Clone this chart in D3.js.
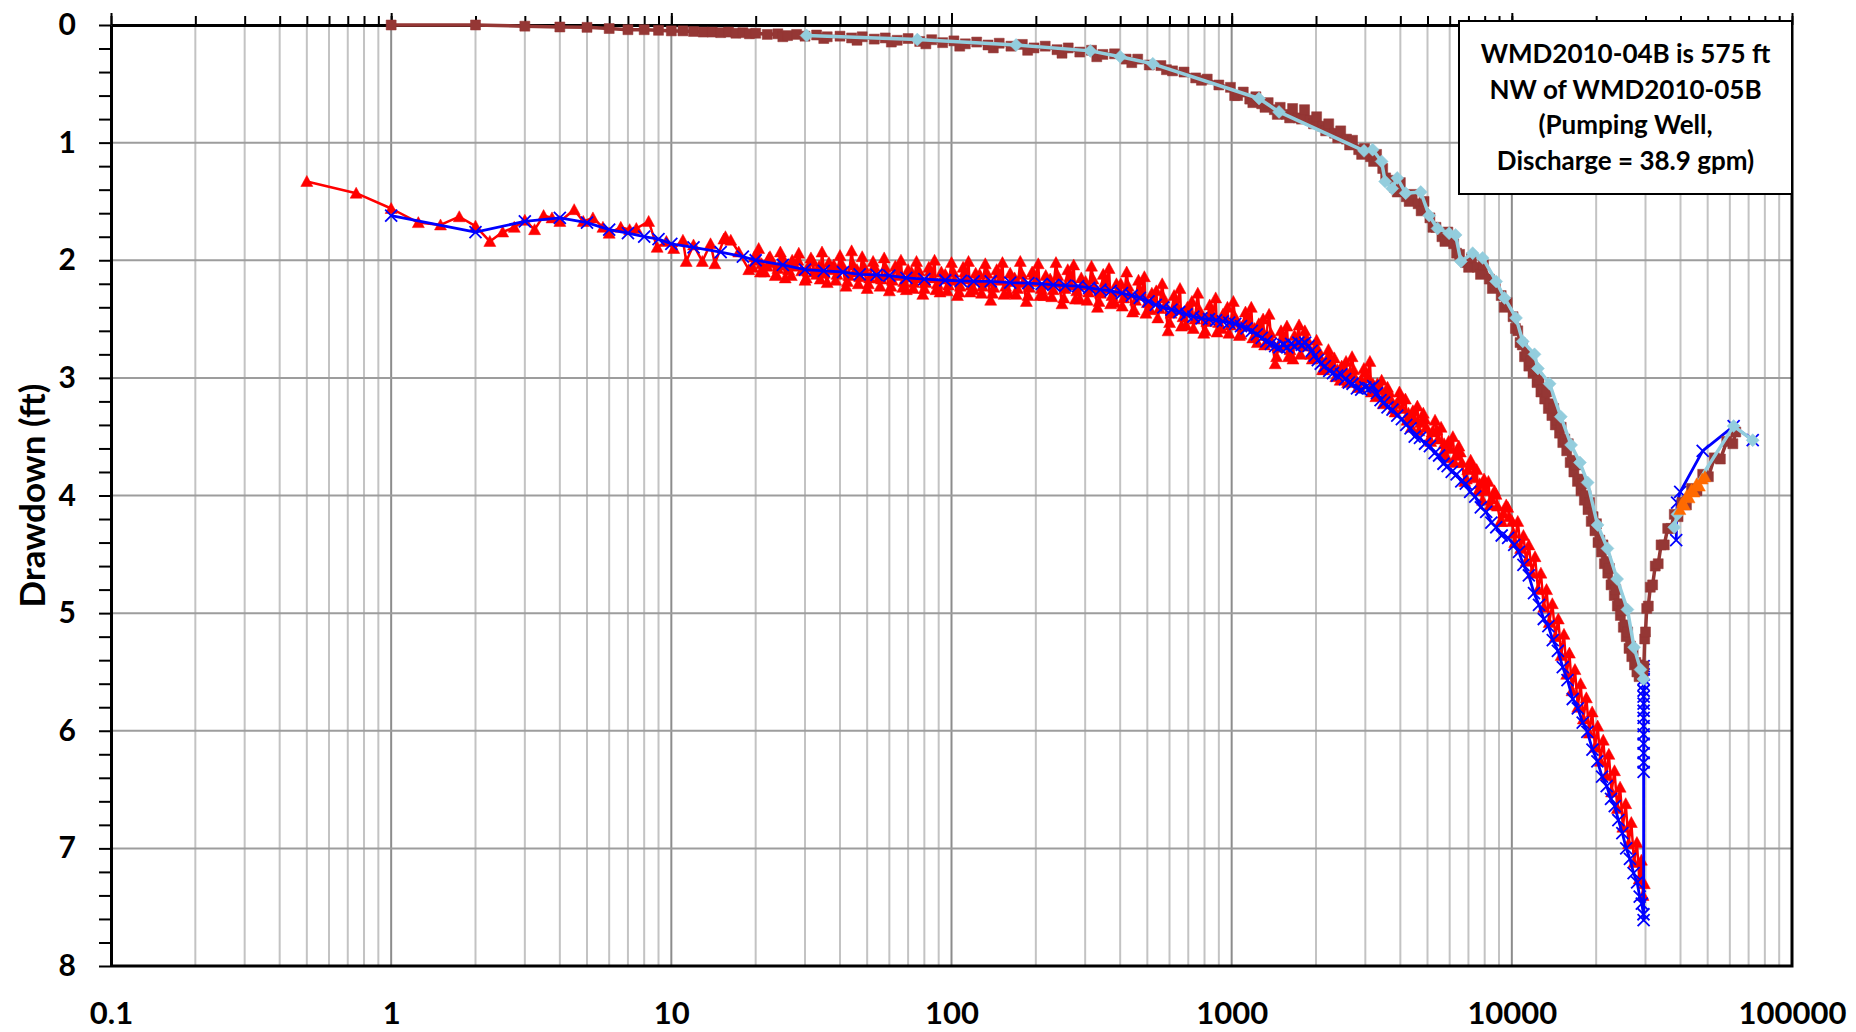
<!DOCTYPE html>
<html>
<head>
<meta charset="utf-8">
<script src="https://d3js.org/d3.v7.min.js"></script>
<style>
  body { margin: 0; background: #ffffff; }
  svg { display: block; }
</style>
</head>
<body onload="onbodyload()">
<svg width="1856" height="1032"></svg>
<script>
// elapsed time (x, log) and drawdown in ft (y)
const redSeries = [
  [0.5,1.33],[0.75,1.43],[1,1.56],[1.25,1.68],[1.5,1.70],[1.75,1.63],[2,1.71],[2.25,1.84],[2.5,1.76],[2.75,1.72],
  [3,1.66],[3.25,1.74],[3.5,1.62],[3.75,1.64],[4,1.67],[4.5,1.57],[4.85,1.67],[5.25,1.64],[5.7,1.72],[6,1.77],
  [6.6,1.72],[7.1,1.74],[7.5,1.73],[8.3,1.67],[8.9,1.89],[9.6,1.84],[10.2,1.90],[11,1.83],[11.3,2.01],[12,1.87],
  [12.9,2.01],[13.8,1.86],[14.3,2.03],[15.4,1.82],[15.6,1.80],[16.3,1.83],[17.4,1.93],[18.9,2.08],
  [19.5,2.06],[20.5,1.90],[21.5,2.10],[22.5,1.97],[23.5,2.13],[24.5,1.93],[25.5,2.15],[27,2.00],[28.5,1.94],[30,2.17],
  [31.5,1.98],[33,2.12],[34.5,1.93],[36,2.19],[38,2.04],[40,1.96],[42,2.22],[44,1.92],[46,2.08],[48,1.97],
  [50,2.24],[52.5,2.01],[55,2.15],[57.5,1.98],[60,2.26],[63,2.05],[66,2.00],[69,2.25],[72,2.10],[75,2.01],
  [79,2.29],[83,2.06],[87,2.00],[91,2.27],[95,2.12],[100,2.02],
  [105,2.30],[110,2.06],[115,2.01],[120,2.25],[126,2.12],[132,2.03],[138,2.34],[145,2.08],[152,2.02],[160,2.28],
  [168,2.15],[176,2.01],[185,2.35],[194,2.10],[204,2.03],[214,2.30],[225,2.16],[236,2.02],[248,2.37],[260,2.08],
  [273,2.04],[287,2.33],[301,2.18],[316,2.05],[332,2.40],[348,2.12],[365,2.07],[383,2.36],[402,2.20],[422,2.10],
  [443,2.44],[465,2.17],[488,2.14],[512,2.42],[538,2.26],[565,2.20],[593,2.60],[623,2.30],[654,2.24],[687,2.55],
  [721,2.35],[757,2.28],[795,2.62],[835,2.38],[877,2.32],[920,2.58],[966,2.40],[1014,2.35],
  [1065,2.64],[1120,2.44],[1175,2.40],[1235,2.70],[1295,2.50],[1360,2.46],[1430,2.88],[1500,2.60],[1575,2.56],[1655,2.84],
  [1740,2.55],[1825,2.60],[1915,2.80],[2010,2.68],[2110,2.93],[2215,2.76],[2325,2.83],[2440,3.02],[2560,2.86],[2690,2.82],
  [2825,3.08],[2965,2.92],[3115,2.86],[3270,3.16],[3430,3.02],[3600,3.08],[3780,3.26],[3970,3.12],[4170,3.18],[4380,3.42],
  [4600,3.24],[4830,3.30],[5070,3.52],[5320,3.36],[5590,3.42],[5870,3.68],[6160,3.50],[6470,3.58],[6790,3.88],[7130,3.70],
  [7490,3.78],[7860,4.04],[8250,3.88],[8670,3.96],[9100,4.22],[9550,4.08],[10030,4.22],
  [10250,4.40],[10500,4.22],[10750,4.45],[11000,4.34],[11250,4.56],[11500,4.42],[11800,4.66],[12100,4.52],[12400,4.80],[12700,4.66],
  [13000,4.95],[13300,4.80],[13600,5.08],[13950,4.92],[14300,5.20],[14650,5.05],[15000,5.36],[15350,5.18],[15700,5.52],[16050,5.34],
  [16400,5.66],[16800,5.48],[17200,5.80],[17600,5.60],[18000,5.90],[18450,5.72],[18900,6.02],[19350,5.84],[19800,6.14],[20250,5.96],
  [20700,6.26],[21200,6.08],[21700,6.38],[22200,6.20],[22700,6.52],[23250,6.34],[23800,6.66],[24350,6.48],[24900,6.82],[25500,6.62],
  [26100,6.96],[26700,6.78],[27300,7.12],[27950,6.95],[28500,7.26],[29000,7.10],[29400,7.40],[29700,7.30]
];
// readings from the middle of the solid red band
const redInfill = [
  [20,2.00],[21,2.03],[22,2.05],[23,2.02],[24,2.07],[25,2.04],[26.2,2.08],[27.7,2.05],[29.2,2.09],[30.7,2.06],
  [32.2,2.10],[33.7,2.05],[35.2,2.11],[37,2.08],[39,2.12],[41,2.07],[43,2.13],[45,2.10],[47,2.14],[49,2.09],
  [51,2.15],[53.7,2.11],[56.2,2.16],[58.7,2.12],[61.5,2.17],[64.5,2.13],[67.5,2.18],[70.5,2.14],[73.5,2.19],[77,2.15],
  [81,2.19],[85,2.15],[89,2.20],[93,2.16],[97.5,2.21],[102.5,2.17],[107.5,2.22],[112.5,2.16],[117.5,2.21],[123,2.17],
  [129,2.22],[135,2.18],[141.5,2.23],[148.5,2.17],[156,2.22],[164,2.18],[172,2.24],[180.5,2.19],[189.5,2.23],[199,2.18],
  [209,2.24],[219.5,2.20],[230.5,2.25],[242,2.19],[254,2.24],[266.5,2.21],[280,2.26],[294,2.21],[308.5,2.27],[324,2.23],
  [340,2.28],[356.5,2.24],[374,2.30],[392.5,2.26],[412,2.32],[432.5,2.28],[454,2.34],[476.5,2.30],[500,2.36],[525,2.34],
  [551.5,2.41],[579,2.38],[608,2.45],[638.5,2.42],[670.5,2.48],[704,2.44],[739,2.50],[776,2.46],[815,2.52],[856,2.48],
  [898.5,2.53],[943,2.49],[990,2.55],[1040,2.52],[1092,2.56],[1147,2.55],[1205,2.58],[1265,2.60],[1327,2.64],[1395,2.70],
  [1465,2.74],[1537,2.72],[1615,2.76],[1697,2.70],[1782,2.72],[1870,2.73],[1962,2.77],[2060,2.82],[2162,2.86],[2270,2.90],
  [2382,2.93],[2500,2.95],[2625,2.97],[2757,3.00],[2895,3.02],[3040,3.00],[3192,3.05],[3350,3.10],[3515,3.15],[3690,3.18],
  [3875,3.22],[4070,3.26],[4275,3.30],[4490,3.35],[4715,3.38],[4950,3.42],[5195,3.46],[5455,3.52],[5730,3.56],[6015,3.60],
  [6315,3.66],[6630,3.72],[6960,3.78],[7310,3.85],[7675,3.90],[8055,3.96],[8460,4.03],[8885,4.09],[9325,4.15],[9790,4.18]
];
// upper and lower quarter of the red band
const redInfillEdges = [
  [19.8,1.97],[20.8,2.10],[22.3,1.98],[23.7,2.12],[25.1,1.99],[26.8,2.13],[28.3,2.00],[30.3,2.15],[32,2.01],[34,2.16],
  [36.5,2.02],[38.6,2.17],[40.5,2.03],[42.5,2.18],[44.6,2.04],[46.5,2.20],[48.6,2.05],[50.5,2.20],[53,2.05],[55.6,2.22],
  [58,2.06],[60.8,2.22],[64,2.07],[67,2.23],[70,2.08],[73,2.24],[76.5,2.09],[80,2.24],[84,2.09],[88,2.25],
  [92,2.10],[96.5,2.26],[101.5,2.10],[106.5,2.27],[111.5,2.10],[116.5,2.27],[122,2.11],[128,2.28],[134,2.11],[140,2.28],
  [147,2.11],[154,2.29],[162,2.11],[170,2.29],[178.5,2.12],[187.5,2.30],[197,2.12],[207,2.30],[217,2.13],[228,2.31],
  [239.5,2.13],[251.5,2.32],[264,2.14],[277,2.33],[290.5,2.15],[305,2.34],[320,2.16],[336,2.35],[352.5,2.18],[370,2.37],
  [388,2.20],[407,2.39],[427.5,2.22],[448.5,2.42],[471,2.25],[494,2.45],[519,2.28],[545,2.49],[572,2.32],[600.5,2.53],
  [631,2.37],[662,2.56],[695,2.40],[730,2.58],[766,2.42],[805,2.60],[845,2.44],[887,2.61],[931,2.46],[978,2.62],
  [1027,2.48],[1078,2.63],[1133,2.50],[1190,2.66],[1250,2.54],[1311,2.72],[1378,2.62],[1447,2.82],[1520,2.66],[1596,2.82],
  [1676,2.64],[1761,2.80],[1848,2.66],[1940,2.84],[2035,2.76],[2136,2.93],[2243,2.82],[2354,2.99],[2470,2.90],[2594,3.04],
  [2724,2.93],[2860,3.08],[3000,2.95],[3150,3.12],[3310,3.05],[3475,3.22],[3650,3.12],[3830,3.29],[4020,3.18],[4225,3.36],
  [4435,3.28],[4655,3.45],[4890,3.35],[5135,3.54],[5390,3.44],[5660,3.64],[5945,3.54],[6240,3.72],[6550,3.63],[6880,3.86],
  [7220,3.74],[7580,3.96],[7960,3.86],[8360,4.08],[8780,3.99],[9210,4.22],[9670,4.10],[10130,4.32]
];

const blueSeries = [
  [1,1.62],[2,1.76],[3,1.67],[4,1.64],[5,1.68],[6,1.74],[7,1.77],[8,1.80],[9,1.82],[10,1.86],
  [12,1.89],[15,1.93],[18,1.97],[20,2.00],[25,2.04],[30,2.08],[35,2.09],[41,2.10],[47,2.12],[54,2.125],
  [60,2.13],[69,2.15],[80,2.16],[95,2.17],[108,2.175],[120,2.18],[138,2.18],[162,2.19],[188,2.195],[210,2.20],
  [231,2.21],[255,2.215],[283,2.22],[310,2.235],[340,2.25],[370,2.26],[406,2.28],[440,2.30],[470,2.32],[505,2.35],
  [536,2.38],[570,2.40],[610,2.42],[650,2.44],[690,2.46],[730,2.48],[780,2.495],[830,2.50],[880,2.51],[930,2.52],
  [980,2.53],[1030,2.54],[1080,2.56],[1130,2.58],[1180,2.60],[1230,2.63],[1280,2.66],[1330,2.69],[1380,2.71],[1430,2.73],
  [1480,2.74],[1530,2.72],[1580,2.74],[1630,2.71],[1680,2.73],[1730,2.70],[1780,2.72],[1830,2.70],[1880,2.73],[1930,2.77],
  [1980,2.81],[2030,2.85],[2080,2.88],[2150,2.90],[2230,2.94],[2300,2.96],[2380,2.98],[2460,2.97],[2540,3.01],[2620,3.04],
  [2700,3.05],[2800,3.09],[2900,3.10],[3000,3.08],[3100,3.09],[3200,3.07],[3300,3.13],[3400,3.19],[3500,3.21],[3600,3.25],
  [3750,3.27],[3900,3.32],[4050,3.35],[4200,3.40],[4350,3.43],[4500,3.50],[4700,3.51],[4900,3.56],[5100,3.58],[5300,3.64],
  [5500,3.66],[5700,3.73],[5900,3.75],[6100,3.80],[6350,3.82],[6600,3.88],[6850,3.90],[7100,3.97],[7400,4.01],[7750,4.10],
  [8100,4.14],[8450,4.23],[8800,4.27],[9200,4.34],[9700,4.36],[10200,4.42],[10600,4.48],[11000,4.59],[11500,4.68],[12000,4.83],
  [12500,4.93],[13000,5.05],[13500,5.11],[14000,5.23],[14600,5.32],[15200,5.46],[15800,5.57],[16500,5.73],[17200,5.81],[17900,5.93],
  [18600,6.01],[19400,6.16],[20200,6.26],[21000,6.39],[21800,6.47],[22600,6.58],[23300,6.64],[24000,6.76],[24800,6.87],[25600,7.00],
  [26400,7.09],[27200,7.21],[28000,7.29],[28600,7.41],[29100,7.47],[29500,7.56],[29540,7.61],
  [29540,6.35],[29540,6.27],[29540,6.19],[29540,6.11],[29540,6.03],[29540,5.96],[29540,5.89],[29540,5.83],[29540,5.77],[29540,5.71],
  [29540,5.66],[29540,5.61],[29540,5.56],[29540,5.52],[29540,5.48],[29540,5.45]
];
const blueRecovery = [[38600,4.38],[38900,4.06],[39900,3.97],[48000,3.62],[61900,3.41],[72400,3.53]];

const brownSeries = [
  [1,0],[2,0],[3,0.01],[4,0.017],[5,0.02],[6,0.03],[7,0.04],[8,0.04],[9,0.045],[10,0.05],
  [11,0.05],[12,0.055],[13,0.06],[14,0.06],[15,0.065],[16,0.06],[17,0.07],[18,0.065],[19,0.075],[20,0.07],
  [22,0.08],[24,0.075],[26,0.09],[28,0.08],[30,0.095],[33,0.085],[36,0.10],[40,0.095],[44,0.11],[48,0.10],
  [53,0.12],[58,0.11],[64,0.13],[70,0.115],[77,0.14],[85,0.125],[93,0.15],[102,0.135],[112,0.16],[123,0.145],
  [135,0.17],[148,0.155],[163,0.18],[179,0.165],[197,0.195],[216,0.18],[238,0.21],[261,0.195],[287,0.23],[316,0.215],
  [347,0.25],[382,0.245],[420,0.29],[462,0.29],[508,0.34],[559,0.345],[615,0.39],[676,0.40],[744,0.45],[818,0.46],
  [900,0.51],[990,0.53],
  [1050,0.60],[1100,0.57],[1160,0.63],[1220,0.61],[1280,0.67],[1350,0.66],[1420,0.72],[1490,0.70],[1570,0.76],[1650,0.71],
  [1730,0.79],[1820,0.72],[1910,0.81],[2010,0.78],[2110,0.86],[2220,0.84],[2330,0.92],[2450,0.90],[2570,0.97],[2700,0.98],
  [2840,1.06],[2980,1.05],[3130,1.12],[3290,1.10],[3460,1.22],[3630,1.32],[3810,1.38],[4000,1.34],[4200,1.46],[4410,1.44],
  [4630,1.52],[4860,1.50],[5100,1.64],[5360,1.72],[5630,1.80],[5910,1.76],[6200,1.86],[6510,1.95],[6840,2.02],[7180,1.98],
  [7540,2.06],[7920,2.04],[8310,2.16],[8730,2.22],[9160,2.30],[9620,2.36],[10100,2.48],
  [10500,2.60],[10900,2.72],[11300,2.80],[11700,2.86],[12100,2.94],[12500,3.02],[12900,3.10],[13300,3.12],[13700,3.22],[14100,3.26],
  [14550,3.36],[15000,3.42],[15450,3.52],[15900,3.56],[16400,3.70],[16900,3.74],[17400,3.86],[17900,3.90],[18400,4.00],[18950,4.06],
  [19500,4.18],[20050,4.24],[20600,4.38],[21150,4.42],[21700,4.56],[22300,4.62],[22900,4.74],[23500,4.80],[24100,4.92],[24700,4.98],
  [25300,5.10],[25900,5.16],[26500,5.28],[27100,5.32],[27700,5.42],[28200,5.44],[28700,5.50],[29100,5.46],[29400,5.52],
  [29600,5.45],[29800,5.22],[30000,5.16],[30300,4.96],[30700,4.94],[31200,4.78],[31800,4.76],[32500,4.60],[33300,4.58],[34100,4.42],
  [35000,4.42],[36000,4.28],[37000,4.28],[38000,4.16],[39200,4.18],[40500,4.06],[42000,4.08],[43800,3.94],[45800,3.96],[48000,3.82],
  [50300,3.84],[52800,3.68],[55500,3.69],[58500,3.54],[61500,3.56],[63000,3.46]
];
// lower edge of the thick brown band
const brownInfill = [
  [25,0.10],[35,0.115],[46,0.13],[61,0.145],[81,0.16],[107,0.18],[141,0.195],[187,0.215],[248,0.24],[330,0.27],
  [440,0.32],[585,0.38],[780,0.47],[1025,0.60],[1190,0.66],[1315,0.70],[1455,0.76],[1610,0.79],[1775,0.80],[1960,0.84],
  [2165,0.90],[2390,0.96],[2635,1.02],[2910,1.10],[3210,1.16],[3545,1.30],[3900,1.42],[4300,1.50],[4745,1.58],[5230,1.72],
  [5770,1.84],[6350,1.94],[7010,2.06],[7730,2.12],[8520,2.24],[9390,2.40],[10300,2.58],[10700,2.70],[11100,2.82],[11500,2.90],
  [11900,2.96],[12300,3.04],[12700,3.12],[13100,3.18],[13500,3.26],[13900,3.32],[14300,3.40],[14800,3.47],[15200,3.55],[15700,3.62],
  [16150,3.72],[16650,3.80],[17150,3.88],[17650,3.96],[18150,4.04],[18700,4.12],[19200,4.22],[19800,4.30],[20300,4.40],[20900,4.48],
  [21400,4.58],[22000,4.66],[22600,4.76],[23200,4.85],[23800,4.94],[24400,5.02],[25000,5.12],[25600,5.20],[26200,5.30],[26800,5.37],
  [27400,5.44],[27950,5.50],[28450,5.54]
];

const lightBlueSeries = [
  [30.4,0.09],[75.5,0.124],[170,0.17],[313,0.22],[400,0.27],[523,0.33],[1252,0.625],[1476,0.739],[2968,1.07],[3185,1.06],
  [3430,1.16],[3530,1.33],[3740,1.39],[3900,1.30],[4180,1.43],[4730,1.42],[5070,1.62],[5430,1.73],[5970,1.77],[6300,1.785],
  [6580,2.01],[7250,1.94],[7870,1.98],[8790,2.18],[9420,2.32],[10350,2.49],[10940,2.69],[12050,2.80],[12390,2.92],[13640,3.05],
  [14960,3.33],[16280,3.57],[17500,3.72],[18640,3.89],[20230,4.25],[21940,4.45],[23760,4.71],[25860,4.97],[27300,5.29],[28800,5.48],
  [29500,5.56]
];
const lightBlueRecovery = [[38000,4.27],[39000,4.16],[61900,3.41],[72400,3.53]];

const orangeSeries = [
  [39800,4.12],[40600,4.06],[41300,4.08],[42100,4.00],[42900,4.02],[43800,3.95],[44700,3.97],[45700,3.90],[46700,3.92],[47800,3.86],[48900,3.84]
];

const xLabels = [0.1, 1, 10, 100, 1000, 10000, 100000];
const yLabels = [0, 1, 2, 3, 4, 5, 6, 7, 8];
const yTitle = "Drawdown (ft)";
const noteLines = ["WMD2010-04B is 575 ft", "NW of WMD2010-05B", "(Pumping Well,", "Discharge = 38.9 gpm)"];

const graph = {
  left: 111, right: 1792, top: 25, bottom: 966,
  font: "Lato, 'Open Sans', sans-serif",
  xScale: null, yScale: null
};

const shapes = {
  triangle: "M0,-6L6,5L-6,5Z",
  square: "M-5,-5h10v10h-10Z",
  diamond: "M0,-6.5L6.5,0L0,6.5L-6.5,0Z",
  cross: "M-6,-6L6,6M-6,6L6,-6"
};

function isWhole(d){
  return Math.abs(d - Math.round(d)) < 1e-6;
}

function byTime(a, b){
  return a[0] - b[0];
}

function onbodyload(){
  const svg = d3.select("svg");
  graph.xScale = d3.scaleLog().domain([0.1, 100000]).range([graph.left, graph.right]);
  graph.yScale = d3.scaleLinear().domain([0, 8]).range([graph.top, graph.bottom]);
  const x = graph.xScale, y = graph.yScale;

  // gridlines
  const grid = svg.append("g");
  grid.selectAll(".vgrid").data(x.ticks()).enter().append("line")
    .attr("x1", d => x(d)).attr("x2", d => x(d))
    .attr("y1", graph.top).attr("y2", graph.bottom)
    .style("stroke", d => isWhole(Math.log10(d)) ? "#8c8c8c" : "#c3c3c3")
    .style("stroke-width", 2);
  grid.selectAll(".hgrid").data(yLabels.slice(1, -1)).enter().append("line")
    .attr("x1", graph.left).attr("x2", graph.right)
    .attr("y1", d => y(d)).attr("y2", d => y(d))
    .style("stroke", "#9d9d9d")
    .style("stroke-width", 2);

  // frame on the right and bottom
  svg.append("path")
    .attr("d", "M" + graph.left + "," + graph.bottom + "H" + graph.right + "V" + graph.top)
    .style("fill", "none").style("stroke", "#000").style("stroke-width", 3);

  // left axis, minor ticks every 0.2 ft
  const yAxis = svg.append("g")
    .attr("transform", "translate(" + graph.left + ",0)")
    .call(d3.axisLeft(y).tickValues(d3.range(0, 8.001, 0.2)).tickSize(12).tickSizeOuter(0).tickPadding(23)
      .tickFormat(d => isWhole(d) ? Math.round(d) : ""));
  yAxis.select(".domain").style("stroke-width", 3);
  yAxis.selectAll(".tick line").style("stroke-width", 2);
  yAxis.selectAll("text")
    .style("font-family", graph.font).style("font-weight", "bold").style("font-size", "30px").style("fill", "#000");

  // top axis (the x axis crosses at 0 drawdown)
  const topMinor = svg.append("g")
    .attr("transform", "translate(0," + graph.top + ")")
    .call(d3.axisTop(x).tickValues(x.ticks()).tickSize(9).tickSizeOuter(0).tickFormat(""));
  topMinor.select(".domain").style("stroke-width", 3);
  topMinor.selectAll(".tick line").style("stroke-width", 2);
  const topMajor = svg.append("g")
    .attr("transform", "translate(0," + graph.top + ")")
    .call(d3.axisTop(x).tickValues(xLabels).tickSize(12).tickSizeOuter(0).tickFormat(""));
  topMajor.select(".domain").remove();
  topMajor.selectAll(".tick line").style("stroke-width", 2);

  // x labels sit below the plot
  const xAxis = svg.append("g")
    .attr("transform", "translate(0," + graph.bottom + ")")
    .call(d3.axisBottom(x).tickValues(xLabels).tickSize(0).tickPadding(36).tickFormat(d => String(d)));
  xAxis.select(".domain").remove();
  xAxis.selectAll("text")
    .style("font-family", graph.font).style("font-weight", "bold").style("font-size", "31px").style("fill", "#000");

  // Y label
  svg.append("text")
    .attr("transform", "translate(31," + (graph.top + graph.bottom) / 2 + ")rotate(-90)")
    .attr("text-anchor", "middle")
    .attr("dominant-baseline", "central")
    .style("font-family", graph.font).style("font-weight", "bold").style("font-size", "35px")
    .text(yTitle);

  const redAll = redSeries.concat(redInfill, redInfillEdges).sort(byTime);
  drawSeries(svg, redAll, "#ff0000", 2.5, shapes.triangle, true);
  drawSeries(svg, blueSeries, "#0000ff", 2.8, shapes.cross, false);
  drawSeries(svg, blueRecovery, "#0000ff", 2.8, shapes.cross, false);
  drawSeries(svg, brownSeries.concat(brownInfill).sort(byTime), "#953735", 3.5, shapes.square, true);
  drawSeries(svg, lightBlueSeries, "#93cddd", 3.5, shapes.diamond, true);
  drawSeries(svg, lightBlueRecovery, "#93cddd", 3.5, shapes.diamond, true);
  drawSeries(svg, orangeSeries, "#ff6a00", 2, shapes.triangle, true);

  drawNote(svg);
}

function drawSeries(svg, data, color, width, shape, filled){
  const x = graph.xScale, y = graph.yScale;
  const line = d3.line()
    .x(d => x(d[0]))
    .y(d => y(d[1]));
  const g = svg.append("g");
  g.append("path")
    .datum(data)
    .attr("d", line)
    .style("fill", "none")
    .style("stroke", color)
    .style("stroke-width", width)
    .style("stroke-linejoin", "round");
  g.selectAll(".marker").data(data).enter().append("path")
    .attr("transform", d => "translate(" + x(d[0]) + "," + y(d[1]) + ")")
    .attr("d", shape)
    .style("fill", filled ? color : "none")
    .style("stroke", color)
    .style("stroke-width", filled ? 0.5 : 1.8);
}

function drawNote(svg){
  const box = { x: 1459, y: 21, w: 333, h: 173 };
  svg.append("rect")
    .attr("x", box.x).attr("y", box.y).attr("width", box.w).attr("height", box.h)
    .style("fill", "#fff").style("stroke", "#000").style("stroke-width", 2);
  svg.append("g").selectAll("text").data(noteLines).enter().append("text")
    .attr("x", box.x + box.w / 2)
    .attr("y", (d, i) => 63 + i * 35.5)
    .attr("text-anchor", "middle")
    .style("font-family", graph.font).style("font-weight", "bold").style("font-size", "26px")
    .text(d => d);
}
</script>
</body>
</html>
